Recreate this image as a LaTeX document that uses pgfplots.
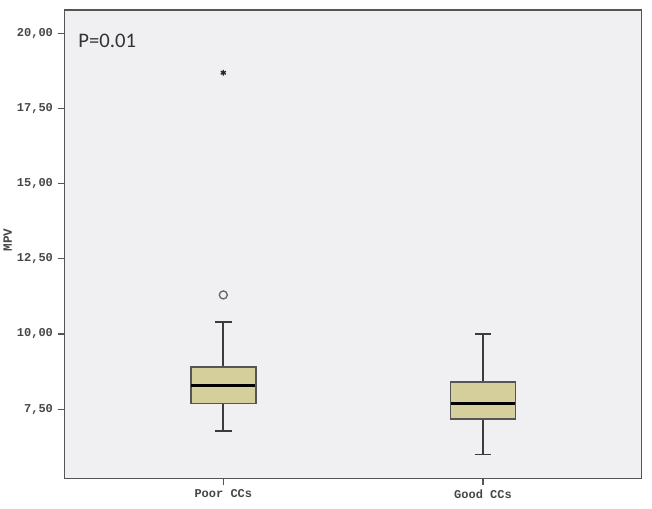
\documentclass[border=0pt]{standalone}
\usepackage{pgfplots}
\pgfplotsset{compat=1.18}
\usepackage{fontspec}
\setmainfont{Liberation Sans}
\setmonofont{Liberation Mono}
\newfontfamily\pfont{Carlito}
\definecolor{bgc}{RGB}{240,240,242}
\definecolor{framec}{RGB}{85,85,85}
\definecolor{boxfill}{RGB}{212,207,155}
\definecolor{boxedge}{RGB}{85,85,85}
\definecolor{whisk}{RGB}{60,60,60}
\definecolor{txt}{RGB}{70,70,70}
\begin{document}
\begin{tikzpicture}
\path[use as bounding box] (-48.225pt,-22.725pt) rectangle (440.775pt,359.025pt);
\begin{axis}[
  at={(0pt,0pt)}, anchor=south west,
  scale only axis,
  width=432.75pt, height=351.5pt,
  xmin=0.3876, xmax=2.6097,
  ymin=5.187, ymax=20.777,
  axis background/.style={fill=bgc},
  axis line style={draw=framec, line width=1.2pt},
  xtick={1,2}, xticklabels={Poor CCs, Good CCs},
  ytick={7.5,10,12.5,15,17.5,20},
  xtick pos=left, ytick pos=left,
  tick align=outside,
  major tick length=5pt,
  tick style={draw=framec, line width=0.9pt},
  /pgf/number format/assume math mode=true,
  /pgf/number format/.cd, fixed, fixed zerofill, precision=2, use comma,
  /pgfplots/.cd,
  ticklabel style={font=\ttfamily\bfseries\fontsize{9}{10}\selectfont, text=txt},
  xticklabel style={yshift=0.5pt},
  ylabel={MPV},
  every axis y label/.append style={at={(axis description cs:-0.098,0.509)}, anchor=center, font=\ttfamily\bfseries\fontsize{9.5}{10}\selectfont, text=txt},
]
% Poor CCs: whiskers
\addplot[whisk, line width=1.5pt] coordinates {(1,6.78) (1,7.68)};
\addplot[whisk, line width=1.5pt] coordinates {(1,8.90) (1,10.41)};
\addplot[whisk, line width=1.5pt] coordinates {(0.968,10.41) (1.032,10.41)};
\addplot[whisk, line width=1.5pt] coordinates {(0.968,6.78) (1.032,6.78)};
% Poor CCs: box and median
\addplot[draw=boxedge, fill=boxfill, line width=1.1pt] coordinates {(0.875,7.68) (1.125,7.68) (1.125,8.90) (0.875,8.90)} -- cycle;
\addplot[black, line width=2.3pt] coordinates {(0.877,8.29) (1.123,8.29)};
% Good CCs: whiskers
\addplot[whisk, line width=1.1pt] coordinates {(2,6.00) (2,7.18)};
\addplot[whisk, line width=1.1pt] coordinates {(2,8.40) (2,10.00)};
\addplot[whisk, line width=1.1pt] coordinates {(1.968,10.00) (2.032,10.00)};
\addplot[whisk, line width=1.1pt] coordinates {(1.968,6.00) (2.032,6.00)};
% Good CCs: box and median
\addplot[draw=boxedge, fill=boxfill, line width=1.1pt] coordinates {(1.875,7.18) (2.125,7.18) (2.125,8.40) (1.875,8.40)} -- cycle;
\addplot[black, line width=2.3pt] coordinates {(1.877,7.69) (2.123,7.69)};
% outliers
\addplot[only marks, mark=o, mark size=3pt, draw=gray!80!black, line width=1pt] coordinates {(1,11.30)};
\addplot[only marks, mark=asterisk, mark size=2.2pt, draw=black!85, line width=1pt] coordinates {(1,18.69)};
\node[anchor=base west, inner sep=0pt, font=\pfont\fontsize{15.5}{18}\selectfont, text=black!80]
  at (axis description cs:0.024,0.921) {P=0.01};
\end{axis}
\end{tikzpicture}
\end{document}
